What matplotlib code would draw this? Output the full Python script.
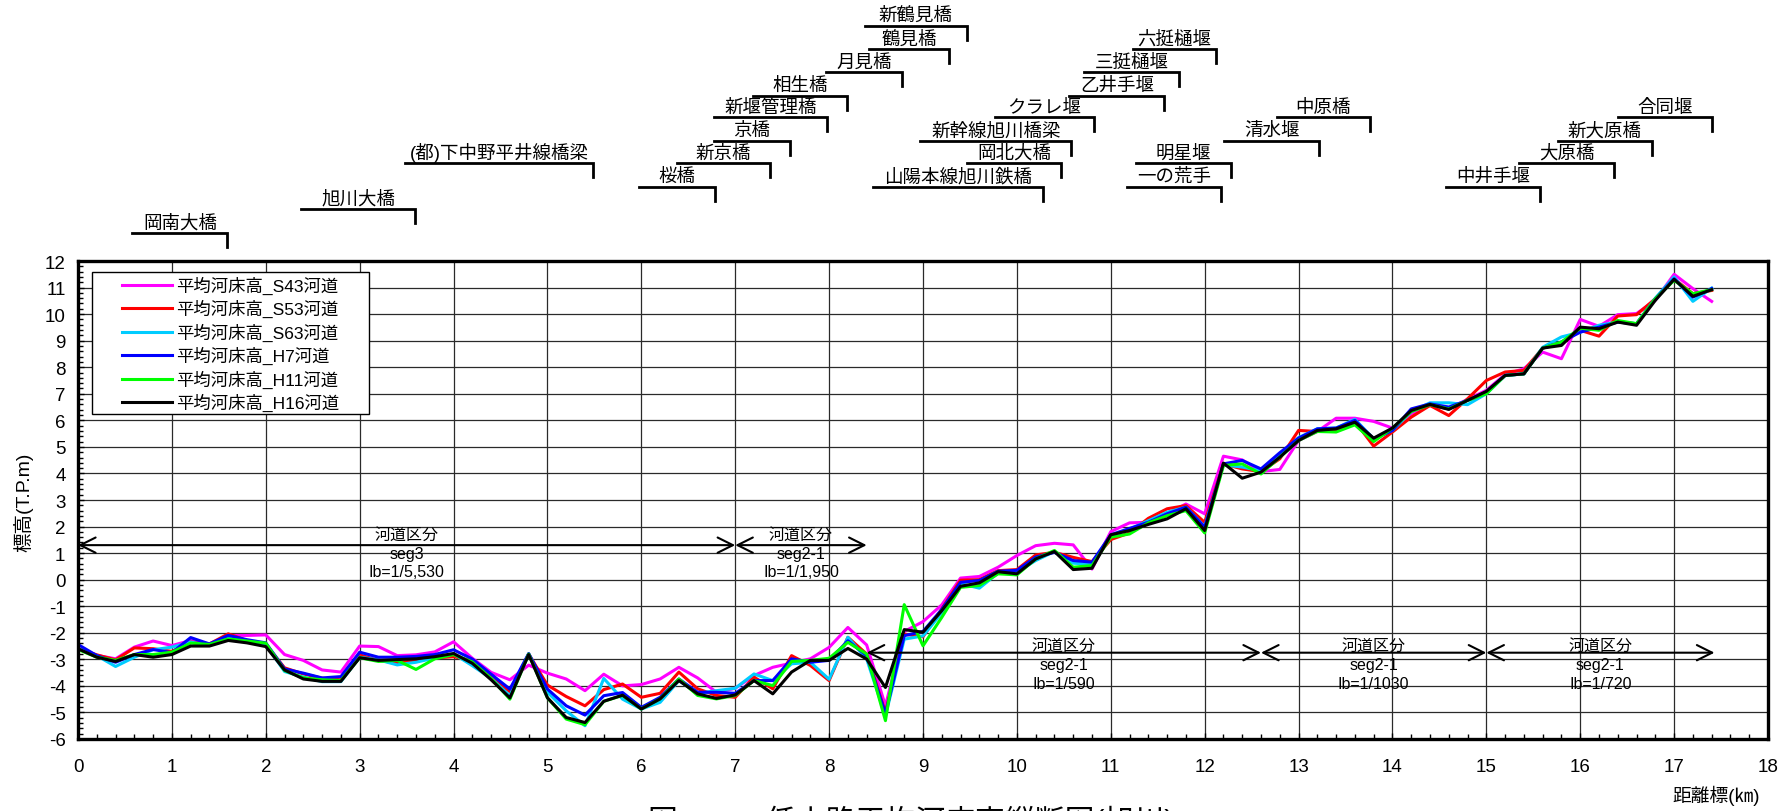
import matplotlib
matplotlib.use("Agg")
import matplotlib.pyplot as plt
from matplotlib import transforms
from matplotlib.lines import Line2D
from matplotlib.patches import Rectangle
from matplotlib.ticker import MultipleLocator

plt.rcParams['font.family'] = ['Liberation Sans', 'Noto Sans CJK JP', 'DejaVu Sans']
plt.rcParams['axes.unicode_minus'] = False

# ---------------------------------------------------------------- data
distance_km = [
    0.0, 0.2, 0.4, 0.6, 0.8, 1.0, 1.2, 1.4, 1.6, 1.8,
    2.0, 2.2, 2.4, 2.6, 2.8, 3.0, 3.2, 3.4, 3.6, 3.8,
    4.0, 4.2, 4.4, 4.6, 4.8, 5.0, 5.2, 5.4, 5.6, 5.8,
    6.0, 6.2, 6.4, 6.6, 6.8, 7.0, 7.2, 7.4, 7.6, 7.8,
    8.0, 8.2, 8.4, 8.6, 8.8, 9.0, 9.2, 9.4, 9.6, 9.8,
    10.0, 10.2, 10.4, 10.6, 10.8, 11.0, 11.2, 11.4, 11.6, 11.8,
    12.0, 12.2, 12.4, 12.6, 12.8, 13.0, 13.2, 13.4, 13.6, 13.8,
    14.0, 14.2, 14.4, 14.6, 14.8, 15.0, 15.2, 15.4, 15.6, 15.8,
    16.0, 16.2, 16.4, 16.6, 16.8, 17.0, 17.2, 17.4,
]

bed_s43 = [
    -2.60, -2.85, -2.98, -2.54, -2.31, -2.48, -2.29, -2.42, -2.10, -2.10,
    -2.08, -2.82, -3.04, -3.40, -3.48, -2.50, -2.52, -2.86, -2.83, -2.72,
    -2.34, -2.96, -3.49, -3.77, -3.22, -3.52, -3.74, -4.18, -3.56, -4.00,
    -3.95, -3.74, -3.30, -3.70, -4.24, -4.09, -3.61, -3.30, -3.14, -2.98,
    -2.55, -1.80, -2.46, -4.75, -1.95, -1.58, -0.95, 0.06, 0.12, 0.47,
    0.91, 1.28, 1.37, 1.31, 0.40, 1.81, 2.14, 2.16, 2.48, 2.85,
    2.48, 4.65, 4.51, 4.07, 4.15, 5.24, 5.58, 6.08, 6.08, 5.96,
    5.71, 6.25, 6.56, 6.43, 6.79, 7.13, 7.73, 7.94, 8.57, 8.32,
    9.80, 9.54, 9.98, 10.02, 10.52, 11.50, 10.96, 10.48,
]

bed_s53 = [
    -2.60, -2.83, -3.02, -2.57, -2.60, -2.70, -2.35, -2.42, -2.04, -2.29,
    -2.44, -3.32, -3.55, -3.71, -3.77, -2.83, -3.04, -3.14, -3.04, -2.95,
    -2.90, -3.05, -3.68, -4.22, -2.80, -3.97, -4.40, -4.75, -4.14, -3.93,
    -4.43, -4.28, -3.48, -4.11, -4.36, -4.43, -3.67, -4.11, -2.86, -3.23,
    -3.80, -2.17, -2.80, -5.00, -2.05, -2.15, -1.10, -0.02, 0.00, 0.34,
    0.38, 0.93, 1.03, 0.84, 0.68, 1.51, 1.76, 2.31, 2.67, 2.79,
    2.16, 4.36, 4.17, 4.07, 4.55, 5.62, 5.58, 5.62, 5.96, 5.03,
    5.56, 6.12, 6.56, 6.18, 6.81, 7.50, 7.82, 7.88, 8.72, 8.88,
    9.39, 9.17, 9.93, 9.98, 10.58, 11.33, 10.77, 10.89,
]

bed_s63 = [
    -2.60, -2.86, -3.27, -2.92, -2.64, -2.54, -2.35, -2.48, -2.20, -2.35,
    -2.44, -3.46, -3.67, -3.84, -3.84, -2.92, -3.02, -3.21, -3.11, -2.95,
    -2.79, -3.24, -3.72, -4.37, -2.80, -4.24, -4.94, -5.50, -3.72, -4.50,
    -4.87, -4.62, -3.80, -4.28, -4.18, -4.09, -3.55, -3.80, -3.17, -3.11,
    -3.75, -2.17, -2.99, -5.13, -2.24, -2.12, -1.25, -0.15, -0.32, 0.25,
    0.28, 0.72, 1.06, 0.62, 0.58, 1.65, 1.90, 2.22, 2.54, 2.73,
    2.00, 4.32, 4.24, 4.10, 4.70, 5.35, 5.68, 5.71, 6.04, 5.30,
    5.62, 6.33, 6.66, 6.66, 6.59, 7.00, 7.69, 7.75, 8.75, 9.14,
    9.32, 9.58, 9.70, 9.64, 10.60, 11.40, 10.48, 10.98,
]

bed_h7 = [
    -2.44, -2.86, -3.11, -2.82, -2.63, -2.75, -2.18, -2.42, -2.10, -2.26,
    -2.38, -3.36, -3.52, -3.70, -3.65, -2.73, -2.92, -2.92, -2.89, -2.82,
    -2.64, -2.99, -3.56, -4.12, -2.78, -4.12, -4.75, -5.10, -4.37, -4.25,
    -4.81, -4.43, -3.74, -4.24, -4.24, -4.28, -3.80, -3.80, -2.98, -3.11,
    -3.04, -2.30, -2.86, -5.05, -2.11, -1.95, -1.12, -0.10, -0.03, 0.32,
    0.35, 0.85, 1.03, 0.72, 0.66, 1.69, 1.93, 2.16, 2.48, 2.73,
    1.98, 4.36, 4.49, 4.17, 4.78, 5.33, 5.68, 5.71, 6.00, 5.30,
    5.62, 6.43, 6.62, 6.50, 6.75, 7.06, 7.69, 7.75, 8.72, 8.95,
    9.32, 9.51, 9.70, 9.64, 10.58, 11.33, 10.64, 10.96,
]

bed_h11 = [
    -2.63, -2.92, -3.04, -2.82, -2.82, -2.73, -2.39, -2.44, -2.23, -2.31,
    -2.39, -3.42, -3.70, -3.77, -3.80, -2.94, -3.08, -3.04, -3.38, -2.98,
    -2.82, -3.10, -3.72, -4.50, -2.80, -4.45, -5.25, -5.46, -4.58, -4.36,
    -4.87, -4.49, -3.74, -4.36, -4.49, -4.36, -3.80, -3.99, -3.08, -3.04,
    -2.96, -2.36, -2.80, -5.31, -0.94, -2.49, -1.42, -0.29, -0.22, 0.22,
    0.18, 0.78, 1.10, 0.47, 0.53, 1.60, 1.72, 2.14, 2.41, 2.60,
    1.76, 4.30, 4.36, 3.98, 4.61, 5.24, 5.58, 5.56, 5.83, 5.20,
    5.71, 6.33, 6.59, 6.43, 6.75, 7.00, 7.69, 7.75, 8.72, 8.95,
    9.47, 9.39, 9.76, 9.64, 10.58, 11.27, 10.77, 10.92,
]

bed_h16 = [
    -2.60, -2.92, -3.08, -2.82, -2.92, -2.82, -2.50, -2.50, -2.29, -2.38,
    -2.52, -3.40, -3.74, -3.83, -3.83, -2.94, -3.04, -3.01, -2.98, -2.90,
    -2.78, -3.15, -3.77, -4.45, -2.82, -4.45, -5.19, -5.38, -4.58, -4.35,
    -4.87, -4.49, -3.80, -4.30, -4.47, -4.34, -3.80, -4.30, -3.48, -3.04,
    -3.04, -2.59, -2.99, -4.06, -1.88, -1.98, -1.17, -0.25, -0.12, 0.30,
    0.22, 0.78, 1.06, 0.38, 0.43, 1.69, 1.85, 2.08, 2.29, 2.67,
    1.85, 4.39, 3.82, 4.05, 4.61, 5.24, 5.62, 5.68, 5.93, 5.33,
    5.71, 6.37, 6.60, 6.41, 6.75, 7.09, 7.69, 7.75, 8.72, 8.82,
    9.51, 9.45, 9.70, 9.58, 10.52, 11.31, 10.67, 10.92,
]

series_labels = [
    '平均河床高_S43河道', '平均河床高_S53河道', '平均河床高_S63河道',
    '平均河床高_H7河道', '平均河床高_H11河道', '平均河床高_H16河道',
]
series_values = [bed_s43, bed_s53, bed_s63, bed_h7, bed_h11, bed_h16]
series_colors = ['#FF00FF', '#FF0000', '#00CCFF', '#0000FF', '#00FF00', '#000000']

# river structures (bridges / weirs) and their distance markers [km]
structure_names = [
    '岡南大橋', '旭川大橋', '(都)下中野平井線橋梁', '桜橋', '新京橋', '京橋',
    '新堰管理橋', '相生橋', '月見橋', '鶴見橋', '新鶴見橋', '山陽本線旭川鉄橋',
    '岡北大橋', '新幹線旭川橋梁', 'クラレ堰', '乙井手堰', '三挺樋堰', '六挺樋堰',
    '一の荒手', '明星堰', '清水堰', '中原橋', '中井手堰', '大原橋', '新大原橋', '合同堰',
]
structure_km = [
    1.59, 3.59, 5.49, 6.78, 7.37, 7.58,
    7.98, 8.19, 8.78, 9.28, 9.47, 10.28,
    10.47, 10.58, 10.82, 11.57, 11.73, 12.12,
    12.17, 12.28, 13.22, 13.76, 15.57, 16.36, 16.76, 17.40,
]

# channel segment classification
segment_bounds = [(0.0, 7.0), (7.0, 8.4), (8.4, 12.6), (12.6, 15.0), (15.0, 17.43)]
segment_names = ['seg3', 'seg2-1', 'seg2-1', 'seg2-1', 'seg2-1']
segment_slopes = ['Ib=1/5,530', 'Ib=1/1,950', 'Ib=1/590', 'Ib=1/1030', 'Ib=1/720']

# ---------------------------------------------------------------- layout
W, H = 1789, 812
label_left_km = [
    0.58, 2.38, 3.48, 5.97, 6.38, 6.77,
    6.77, 7.19, 7.97, 8.42, 8.38, 8.47,
    9.47, 8.97, 9.77, 10.56, 10.71, 11.24,
    11.17, 11.27, 12.21, 12.77, 14.57, 15.35, 15.76, 16.40,
]
label_tier = [
    9, 8, 6, 7, 6, 5,
    4, 3, 2, 1, 0, 7,
    6, 5, 4, 3, 2, 1,
    7, 6, 5, 4, 7, 6, 5, 4,
]
tier_y_px = [26.7, 50.0, 73.3, 96.5, 118.3, 141.7, 164.3, 187.7, 210.0, 234.0]
arrow_y = [1.3, 1.3, -2.75, -2.75, -2.75]

fig = plt.figure(figsize=(W / 100, H / 100), dpi=100)
ax = fig.add_axes([78 / W, 72 / H, 1690 / W, 478 / H])

for vals, lbl, col in zip(series_values, series_labels, series_colors):
    ax.plot(distance_km, vals, color=col, lw=2.2, label=lbl, zorder=3)

ax.set_xlim(0, 18)
ax.set_ylim(-6, 12)
ax.xaxis.set_major_locator(MultipleLocator(1))
ax.xaxis.set_minor_locator(MultipleLocator(0.2))
ax.yaxis.set_major_locator(MultipleLocator(1))
ax.yaxis.set_minor_locator(MultipleLocator(0.2))
ax.grid(which='major', color='#2a2a2a', lw=0.9, zorder=1)
ax.set_axisbelow(True)
ax.tick_params(which='both', direction='in', top=False, right=False)
ax.tick_params(which='major', length=4, width=1, labelsize=13.5)
ax.tick_params(which='minor', length=3.5, width=1)
ax.tick_params(axis='x', which='major', pad=14)
ax.tick_params(axis='y', which='major', pad=9)
for sp in ax.spines.values():
    sp.set_linewidth(2.4)
    sp.set_zorder(6)


def fx(px):
    return px / W


def fy(py):
    return 1 - py / H


# legend box
ax.add_patch(Rectangle((fx(92), fy(415)), fx(369) - fx(92), fy(273) - fy(415),
                       transform=fig.transFigure, facecolor='white',
                       edgecolor='black', lw=1.0, zorder=8, clip_on=False))
row_px = [285.7, 309.2, 332.7, 356.2, 379.7, 403.2]
for lbl, col, ry in zip(series_labels, series_colors, row_px):
    ax.add_line(Line2D([fx(122), fx(172)], [fy(ry), fy(ry)], color=col, lw=2.2,
                       transform=fig.transFigure, zorder=9, clip_on=False))
    ax.text(fx(176), fy(ry), lbl, transform=fig.transFigure, fontsize=12.5,
            ha='left', va='center', zorder=9)

# channel segment arrows and notes
for (x0, x1), name, slope, ay in zip(segment_bounds, segment_names, segment_slopes, arrow_y):
    ax.annotate('', xy=(x1, ay), xytext=(x0, ay),
                arrowprops=dict(arrowstyle='<->,head_length=1.1,head_width=0.55',
                                lw=1.5, color='black', shrinkA=0, shrinkB=0),
                zorder=5, annotation_clip=False)
    xc = (x0 + x1) / 2
    if ay > 0:
        offs = (0.42, -0.31, -1.01)
    else:
        offs = (0.27, -0.46, -1.16)
    for text, off in zip(('河道区分', name, slope), offs):
        ax.text(xc, ay + off, text, ha='center', va='center', fontsize=11.5, zorder=5)

# structure labels above the chart
blend = transforms.blended_transform_factory(ax.transData, fig.transFigure)
for name, km, left, tier in zip(structure_names, structure_km, label_left_km, label_tier):
    ypx = tier_y_px[tier]
    ax.add_line(Line2D([left, km, km], [fy(ypx), fy(ypx), fy(ypx + 14)],
                       color='black', lw=2.0, transform=blend, clip_on=False,
                       solid_joinstyle='miter'))
    ax.text((left + km) / 2, fy(ypx - 1.5), name, transform=blend, fontsize=13.3,
            ha='center', va='bottom')

# axis titles and caption
fig.text(fx(23), fy(502), '標高(T.P.m)', rotation=90, ha='center', va='center', fontsize=14)
fig.text(fx(1760), fy(796), '距離標(㎞)', ha='right', va='center', fontsize=13.5)
fig.text(fx(648), fy(831), '図－2.1  低水路平均河床高縦断図(旭川)', ha='left',
         va='baseline', fontsize=21.5)

fig.savefig('out.png', dpi=100)
